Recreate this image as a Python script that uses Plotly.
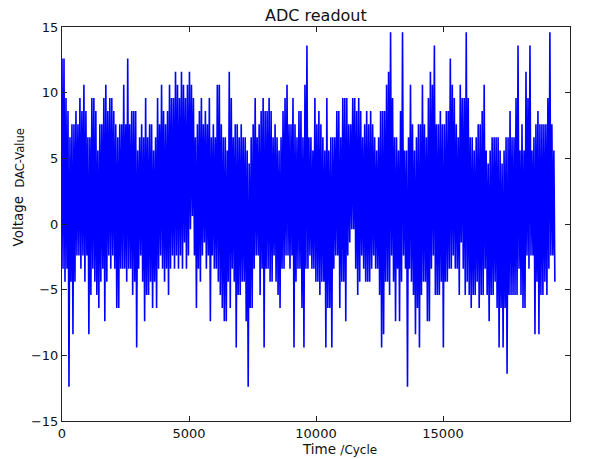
import numpy as np
import plotly.graph_objects as go

# ADC readout: per 2-sample block, upper and lower excursion of the signal (DAC value)
highs = [
    12.6, 12.6, 9.6, 8.6, 6.6, 7.6, 7.6, 8.6, 7.6, 9.6, 8.6, 10.6, 8.6, 6.6, 6.6, 9.6, 9.6, 8.6, 5.6, 7.6,
    7.6, 9.6, 10.6, 8.6, 9.6, 9.6, 8.6, 7.6, 6.6, 7.6, 7.6, 10.6, 7.6, 12.6, 7.6, 8.6, 8.6, 8.6, 5.6, 6.6,
    7.6, 6.6,
    9.6, 6.6, 7.6, 7.6, 5.6, 6.6, 9.6, 7.6, 10.6, 8.6, 7.6, 8.6, 10.6, 9.6, 9.6, 11.6, 10.6, 9.6, 11.6, 10.6,
    9.6, 10.6, 11.6, 10.6, 9.6, 6.6, 7.6, 8.6, 9.6, 7.6, 8.6, 7.6, 9.6, 6.6, 7.6, 6.6, 10.6, 10.6, 7.6, 6.6,
    6.6, 5.6, 11.6, 9.6, 6.6, 7.6, 7.6, 6.6, 7.6, 6.6, 6.6, 5.6, 4.6, 6.6, 7.6, 9.6, 6.6, 7.6, 8.6, 9.6,
    8.6, 8.6, 9.6, 8.6, 6.6, 7.6, 6.6, 5.6, 6.6, 8.6, 9.6, 10.6, 7.6, 7.6, 9.6, 7.6, 6.6, 8.6, 8.6, 6.6,
    10.6, 13.6, 6.6, 6.6, 5.6,
    9.6, 7.6, 8.6, 7.6, 6.6, 5.6, 9.6, 5.6, 6.6, 6.6, 6.6, 8.6, 8.6, 6.6, 9.6, 9.6, 9.6, 7.6, 7.6, 9.6,
    9.6, 8.6, 9.6, 8.6, 6.6, 7.6, 8.6, 7.6, 8.6, 7.6, 6.6, 5.6, 6.6, 8.6, 8.6, 8.6, 10.6, 11.6, 14.6, 9.6,
    6.6, 6.6,
    5.6, 8.6, 14.6, 5.6, 5.6, 6.6, 10.6, 7.6, 5.6, 6.6, 7.6, 7.6, 10.6, 7.6, 6.6, 9.6, 11.6, 10.6, 13.6, 7.6,
    7.6, 8.6, 7.6, 7.6, 8.6, 8.6, 12.6, 10.6, 9.6, 7.6, 6.6, 10.6, 9.6, 9.6, 14.6, 9.6, 6.6, 6.6, 5.6, 6.6,
    7.6, 7.6, 8.6,
    10.6, 5.6, 4.6, 5.6, 6.6, 6.6, 6.6, 6.6, 5.6, 4.6, 5.6, 6.6, 6.6, 8.6, 6.6, 6.6, 9.6, 13.6, 5.6, 7.6,
    5.6, 11.6, 9.6, 13.6, 5.6, 6.6, 7.6, 8.6, 7.6, 7.6, 7.6, 7.6, 9.6, 14.6, 7.6, 5.6,
]
lows = [
    -3.4, -4.4, -3.4, -12.4, -4.4, -8.4, -4.4, -2.4, -2.4, -3.4, -2.4, -4.4, -2.4, -8.4, -5.4, -3.4, -4.4, -5.4, -6.4, -4.4,
    -3.4, -7.4, -4.4, -2.4, -3.4, -2.4, -3.4, -6.4, -6.4, -3.4, -3.4, -3.4, -4.4, -3.4, -3.4, -5.4, -4.4, -9.4, -3.4, -2.4,
    -4.4, -7.4,
    -5.4, -5.4, -4.4, -6.4, -4.4, -6.4, -3.4, -2.4, -3.4, -4.4, -3.4, -5.4, -3.4, -2.4, -3.4, -2.4, -3.4, -2.4, -3.4, -1.4,
    -3.4, -2.4, -0.4, 0.6, -2.4, -6.4, -3.4, -4.4, -2.4, -1.4, -3.4, -2.4, -7.4, -2.4, -3.4, -3.4, -4.4, -5.4, -6.4, -7.4,
    -7.4, -4.4, -6.4, -3.4, -4.4, -9.4, -5.4, -5.4, -4.4, -4.4, -7.4, -12.4, -6.4, -6.4, -3.4, -2.4, -2.4, -5.4, -3.4, -9.4,
    -3.4, -3.4, -4.4, -4.4, -2.4, -4.4, -5.4, -6.4, -3.4, -3.4, -2.4, -2.4, -3.4, -2.4, -9.4, -4.4, -3.4, -3.4, -6.4, -9.4,
    -3.4, -3.4, -2.4, -3.4, -3.4,
    -4.4, -4.4, -5.4, -4.4, -4.4, -9.4, -6.4, -6.4, -9.4, -3.4, -2.4, -2.4, -6.4, -4.4, -4.4, -7.4, -2.4, -1.4, -0.4, -0.4,
    -3.4, -5.4, -4.4, -2.4, -3.4, -4.4, -4.4, -4.4, -3.4, -2.4, -3.4, -3.4, -5.4, -9.4, -8.4, -4.4, -4.4, -5.4, -2.4, -4.4,
    -7.4, -3.4,
    -7.4, -4.4, -2.4, -3.4, -12.4, -3.4, -4.4, -5.4, -8.4, -6.4, -9.4, -5.4, -4.4, -4.4, -7.4, -7.4, -3.4, -2.4, -5.4, -5.4,
    -5.4, -4.4, -9.4, -4.4, -4.4, -3.4, -3.4, -2.4, -3.4, -3.4, -5.4, -1.4, -3.4, -5.4, -4.4, -5.4, -6.4, -5.4, -5.4, -4.4,
    -6.4, -5.4, -5.4,
    -3.4, -5.4, -7.4, -5.4, -5.4, -4.4, -6.4, -9.4, -6.4, -9.4, -6.4, -11.4, -5.4, -5.4, -5.4, -5.4, -5.4, -3.4, -5.4, -6.4,
    -6.4, -2.4, -3.4, -2.4, -2.4, -8.4, -4.4, -8.4, -5.4, -5.4, -4.4, -5.4, -3.4, -2.4, -2.4, -4.4,
]
cycles_per_sample = 39.2
x_ticks = [0, 5000, 10000, 15000, 20000]
y_ticks = [-15, -10, -5, 0, 5, 10, 15]

signal = np.empty(2 * len(highs))
signal[0::2] = highs
signal[1::2] = lows
cycle = np.arange(len(signal)) * cycles_per_sample

FONT = "DejaVu Sans"
fig = go.Figure(go.Scatter(x=cycle, y=signal, mode="lines",
                           line=dict(color="#0000ff", width=1.6, simplify=False),
                           showlegend=False))

axis_common = dict(showgrid=False, zeroline=False, showline=True, linecolor="#222222",
                   linewidth=1, mirror="ticks", ticks="inside", ticklen=5, tickcolor="#222222",
                   tickfont=dict(family=FONT, size=13, color="#111111"))
fig.update_xaxes(range=[0, 20000], tickvals=x_ticks, ticktext=[str(v) for v in x_ticks], **axis_common)
fig.update_yaxes(range=[-15, 15], tickvals=y_ticks,
                 ticktext=[str(v).replace("-", "\u2212") for v in y_ticks], **axis_common)

L, R, T, B, W, H = 62, 20, 27, 38, 590, 459
pw, ph = W - L - R, H - T - B
def px(xp):
    return (xp - L) / pw
def py(yp):
    return (H - B - yp) / ph

fig.update_layout(
    width=W, height=H, margin=dict(l=L, r=R, t=T, b=B),
    plot_bgcolor="white", paper_bgcolor="white",
    font=dict(family=FONT, color="#111111"),
    annotations=[
        dict(text="ADC readout", xref="paper", yref="paper", x=0.5, y=py(16),
             xanchor="center", yanchor="middle", showarrow=False, font=dict(size=16)),
        dict(text="Time <span style='font-size:12px'>/Cycle</span>", xref="paper", yref="paper",
             x=px(300), y=py(449), xanchor="left", yanchor="middle", showarrow=False,
             font=dict(size=13.5)),
        dict(text="Voltage", xref="paper", yref="paper",
             x=px(17), y=py(249), xanchor="center", yanchor="bottom", textangle=-90,
             showarrow=False, font=dict(size=13.5)),
        dict(text="DAC-Value", xref="paper", yref="paper",
             x=px(20), y=py(190), xanchor="center", yanchor="bottom", textangle=-90,
             showarrow=False, font=dict(size=11.5)),
    ],
)
fig.write_html("out.html")
